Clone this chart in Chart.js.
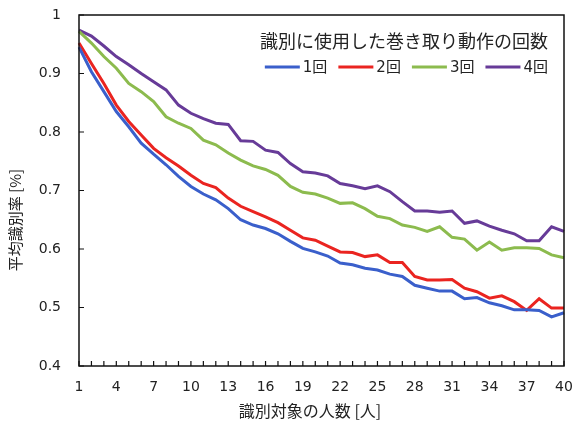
<!DOCTYPE html>
<html>
<head>
<meta charset="utf-8">
<script src="https://cdn.jsdelivr.net/npm/chart.js@4"></script>
<style>
  html, body { margin: 0; padding: 0; background: #fff; }
  #wrap { width: 573px; height: 436px; }
</style>
</head>
<body>
<div id="wrap"><canvas id="myChart" width="573" height="436"></canvas></div>
<script>
const people = Array.from({ length: 40 }, (_, i) => String(i + 1))

const legendTitle = '識別に使用した巻き取り動作の回数'
const seriesNames = ['1回', '2回', '3回', '4回']
const seriesColors = ['#3a5fcb', '#ea2420', '#8cbb4e', '#673b98']

const once = [
  0.945, 0.903, 0.869, 0.835, 0.809, 0.781, 0.762, 0.744, 0.724, 0.707,
  0.694, 0.684, 0.669, 0.650, 0.641, 0.635, 0.626, 0.613, 0.601, 0.595,
  0.588, 0.576, 0.573, 0.567, 0.564, 0.557, 0.553, 0.538, 0.533, 0.528,
  0.528, 0.515, 0.517, 0.508, 0.503, 0.496, 0.496, 0.495, 0.484, 0.491,
]
const twice = [
  0.952, 0.917, 0.883, 0.846, 0.818, 0.795, 0.772, 0.756, 0.742, 0.726,
  0.712, 0.705, 0.687, 0.673, 0.664, 0.655, 0.645, 0.632, 0.619, 0.615,
  0.605, 0.595, 0.594, 0.587, 0.590, 0.577, 0.577, 0.553, 0.547, 0.547,
  0.548, 0.533, 0.527, 0.516, 0.520, 0.510, 0.495, 0.515, 0.499, 0.499,
]
const threeTimes = [
  0.972, 0.952, 0.929, 0.909, 0.883, 0.869, 0.852, 0.826, 0.815, 0.806,
  0.786, 0.778, 0.764, 0.752, 0.742, 0.736, 0.726, 0.707, 0.697, 0.694,
  0.687, 0.678, 0.679, 0.669, 0.656, 0.652, 0.641, 0.637, 0.630, 0.638,
  0.620, 0.617, 0.598, 0.612, 0.598, 0.602, 0.602, 0.601, 0.590, 0.585,
]
const fourTimes = [
  0.974, 0.964, 0.947, 0.929, 0.915, 0.900, 0.886, 0.872, 0.846, 0.832,
  0.823, 0.815, 0.813, 0.785, 0.784, 0.769, 0.765, 0.746, 0.732, 0.730,
  0.725, 0.712, 0.708, 0.703, 0.708, 0.698, 0.681, 0.665, 0.665, 0.663,
  0.665, 0.644, 0.648, 0.639, 0.632, 0.626, 0.614, 0.614, 0.638, 0.630,
]

const xTitle = '識別対象の人数 [人]'
const yTitle = '平均識別率 [%]'

const FONT = '"DejaVu Sans", "Noto Sans CJK JP", sans-serif'
const CJK = '"Noto Sans CJK JP", sans-serif'

const canvas = document.getElementById('myChart')

const data = {
  labels: people,
  datasets: [once, twice, threeTimes, fourTimes].map((values, i) => ({
    label: seriesNames[i],
    data: values,
    borderColor: seriesColors[i],
    backgroundColor: seriesColors[i],
    borderWidth: 3,
    pointRadius: 0,
    tension: 0,
  })),
}

// frame, inner tick marks and axis titles
const frameAndTitles = {
  id: 'frameAndTitles',
  afterDraw(chart) {
    const { ctx, chartArea: { left, top, right, bottom } } = chart
    const xScale = chart.scales.x
    const yScale = chart.scales.y
    ctx.save()
    ctx.strokeStyle = '#111'
    ctx.lineWidth = 1.5
    ctx.strokeRect(left, top, right - left, bottom - top)

    ctx.lineWidth = 1.2
    ctx.beginPath()
    xScale.ticks.forEach((t, i) => {
      const px = xScale.getPixelForTick(i)
      ctx.moveTo(px, bottom)
      ctx.lineTo(px, bottom - 5)
    })
    yScale.ticks.forEach((t, i) => {
      const py = yScale.getPixelForTick(i)
      ctx.moveTo(left, py)
      ctx.lineTo(left + 5, py)
    })
    ctx.stroke()

    ctx.fillStyle = '#222'
    ctx.font = `16px ${CJK}`
    ctx.textAlign = 'center'
    ctx.textBaseline = 'middle'
    ctx.fillText(xTitle, 310, 411)

    ctx.translate(15, 220)
    ctx.rotate(-Math.PI / 2)
    ctx.font = `15px ${CJK}`
    ctx.fillText(yTitle, 0, 0)
    ctx.restore()
  },
}

// legend drawn inside the plot, top right
const insideLegend = {
  id: 'insideLegend',
  afterDraw(chart) {
    const { ctx, chartArea: { right } } = chart
    const rightEdge = right - 16
    ctx.save()
    ctx.fillStyle = '#222'
    ctx.font = `18px ${CJK}`
    ctx.textAlign = 'right'
    ctx.textBaseline = 'middle'
    ctx.fillText(legendTitle, rightEdge, 41)

    ctx.font = `15px ${FONT}`
    const lineLen = 35
    const gap = 3
    const spacing = 11
    const widths = chart.data.datasets.map(
      (ds) => lineLen + gap + ctx.measureText(ds.label).width
    )
    const total = widths.reduce((a, b) => a + b, 0) + spacing * (widths.length - 1)
    let x = rightEdge - total
    const y = 67
    ctx.textAlign = 'left'
    chart.data.datasets.forEach((ds, i) => {
      ctx.strokeStyle = ds.borderColor
      ctx.lineWidth = 3
      ctx.beginPath()
      ctx.moveTo(x, y)
      ctx.lineTo(x + lineLen, y)
      ctx.stroke()
      ctx.fillText(ds.label, x + lineLen + gap, y + 1)
      x += widths[i] + spacing
    })
    ctx.restore()
  },
}

const config = {
  type: 'line',
  data: data,
  options: {
    responsive: false,
    animation: false,
    layout: { padding: { top: 15, right: 9, left: 0, bottom: 0 } },
    plugins: {
      legend: { display: false },
      tooltip: { enabled: false },
    },
    scales: {
      x: {
        type: 'category',
        offset: false,
        grid: { display: false, drawTicks: false },
        border: { display: false },
        ticks: {
          autoSkip: false,
          maxRotation: 0,
          padding: 13,
          color: '#222',
          font: { family: FONT, size: 14 },
          callback: (value, index) => (index % 3 === 0 ? people[index] : ''),
        },
        afterFit: (scale) => {
          scale.height = 70
          scale.paddingLeft = 0
          scale.paddingRight = 0
        },
      },
      y: {
        min: 0.4,
        max: 1,
        grid: { display: false, drawTicks: false },
        border: { display: false },
        ticks: {
          stepSize: 0.1,
          padding: 18,
          color: '#222',
          font: { family: FONT, size: 14 },
          callback: (value) => String(Math.round(value * 10) / 10),
        },
        afterFit: (scale) => {
          scale.width = 79
          scale.paddingTop = 0
          scale.paddingBottom = 0
        },
      },
    },
  },
  plugins: [frameAndTitles, insideLegend],
}

const myChart = new Chart(canvas, config)
</script>
</body>
</html>
